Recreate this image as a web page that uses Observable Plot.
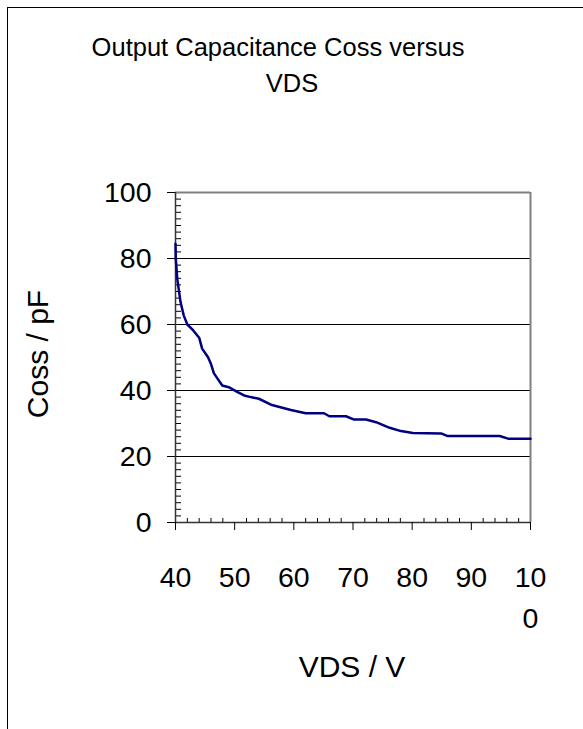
<!DOCTYPE html>
<html><head><meta charset="utf-8">
<script src="https://cdn.jsdelivr.net/npm/d3@7"></script>
<script src="https://cdn.jsdelivr.net/npm/@observablehq/plot@0.6"></script>
<style>
body{margin:0;background:#fff;}
#wrap{position:relative;width:583px;height:729px;overflow:hidden;font-family:"Liberation Sans",Arial,sans-serif;color:#000;}
#frame{position:absolute;left:7px;top:7px;width:700px;height:800px;border-left:1.5px solid #000;border-top:1.5px solid #000;}
.tl{position:absolute;transform:translate(-50%,-50%);font-size:25.5px;white-space:nowrap;}
#ylab{position:absolute;left:38px;top:354px;transform:translate(-50%,-50%) rotate(-90deg);font-size:30px;white-space:nowrap;}
#xlab{position:absolute;left:352px;top:667px;transform:translate(-50%,-50%);font-size:30px;white-space:nowrap;}
#chart{position:absolute;left:0;top:110px;}
</style>
</head><body>
<div id="wrap">
  <div id="frame"></div>
  <div class="tl" style="left:278px;top:47px;">Output Capacitance Coss versus</div>
  <div class="tl" style="left:292px;top:83px;">VDS</div>
  <div id="ylab">Coss / pF</div>
  <div id="xlab">VDS / V</div>
  <div id="chart"></div>
</div>
<script>
const vds  = [40, 40.05, 40.3, 40.85, 41.4, 42, 43, 44, 44.5, 45.5, 46, 46.5, 47.9, 49, 50.5, 51.6, 52.7, 54.1, 56.3, 59.5, 62, 65.1, 66, 68.8, 70.2, 72.2, 73.9, 76.2, 78.1, 80.1, 84.9, 86, 94.8, 96.2, 100];
const coss = [84.5, 80, 73.8, 66.8, 62.7, 60, 58.2, 56, 52.7, 50.1, 48, 45.2, 41.5, 41, 39.5, 38.5, 38, 37.5, 35.6, 34.1, 33.1, 33.1, 32.2, 32.2, 31.2, 31.2, 30.4, 28.7, 27.7, 27.1, 27, 26.2, 26.2, 25.4, 25.4];
const xTicks = [40, 50, 60, 70, 80, 90, 100];
const xTickLabels = ["40", "50", "60", "70", "80", "90", "10\n0"];
const yTicks = [0, 20, 40, 60, 80, 100];
const yTickLabels = ["0", "20", "40", "60", "80", "100"];
const xMinor = d3.range(40, 100.001, 2).filter(v => !xTicks.includes(v));
const yMinor = d3.range(0, 100.001, 2).filter(v => !yTicks.includes(v));

const data = vds.map((v, i) => ({vds: v, coss: coss[i]}));

const W = 583, H = 619, mL = 175, mR = 53, mT = 82, mB = 207;
const plotW = W - mL - mR, plotH = H - mT - mB;

const chart = Plot.plot({
  width: W, height: H,
  marginLeft: mL, marginRight: mR, marginTop: mT, marginBottom: mB,
  style: {fontFamily: "'Liberation Sans', Arial, sans-serif", fontSize: "28px", background: "transparent", color: "#000"},
  x: {domain: [40, 100], label: null},
  y: {domain: [0, 100], label: null},
  marks: [
    Plot.ruleY(yTicks.filter(v => v > 0 && v < 100), {stroke: "#000", strokeWidth: 1}),
    Plot.ruleY([100], {stroke: "#808080", strokeWidth: 2}),
    Plot.ruleX([100], {stroke: "#808080", strokeWidth: 2}),
    Plot.ruleY(yMinor, {insetRight: plotW - 6, stroke: "#000", strokeWidth: 1}),
    Plot.ruleX(xMinor, {insetTop: plotH - 4, stroke: "#000", strokeWidth: 1}),
    Plot.ruleX([40], {stroke: "#333", strokeWidth: 1.5}),
    Plot.ruleY([0], {stroke: "#333", strokeWidth: 1.5}),
    Plot.axisY({ticks: yTicks, tickSize: 8, tickPadding: 16, fontSize: 28.5,
      tickFormat: d => yTickLabels[yTicks.indexOf(d)], label: null, stroke: "#000"}),
    Plot.axisX({ticks: xTicks, tickSize: 8, tickPadding: 27, fontSize: 28.5, lineHeight: 1.45,
      tickFormat: d => xTickLabels[xTicks.indexOf(d)], label: null, stroke: "#000"}),
    Plot.line(data, {x: "vds", y: "coss", stroke: "#000080", strokeWidth: 2.5, strokeLinejoin: "round"})
  ]
});
document.getElementById("chart").appendChild(chart);
</script>
</body></html>
